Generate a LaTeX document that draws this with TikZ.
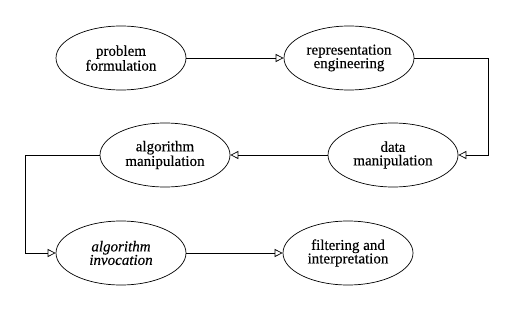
\documentclass[tikz,border=0pt]{standalone}
\usepackage{fontspec}
\setmainfont{Liberation Serif}[FakeBold=0.3]
\usetikzlibrary{shapes.geometric,arrows.meta}
\begin{document}
\begin{tikzpicture}[x=1pt,y=-1pt,
  stage/.style={ellipse,draw,line width=0.7pt,minimum width=130pt,minimum height=64pt,inner sep=0pt,align=center,font=\fontsize{15}{13.5}\selectfont},
  conn/.style={line width=0.7pt,-{Triangle[open,length=8pt,width=8pt]}}]
\useasboundingbox (0,0) rectangle (516,310);
\node[stage] (pf) at (121,58) {problem\\formulation};
\node[stage] (re) at (349,58) {representation\\engineering};
\node[stage] (dm) at (393,155) {data\\manipulation};
\node[stage] (am) at (165,155) {algorithm\\manipulation};
\node[stage] (ai) at (121,253) {\itshape algorithm\\\itshape invocation};
\node[stage] (fi) at (348,253) {filtering and\\interpretation};
\coordinate (rx) at (488,0);
\coordinate (lx) at (25,0);
\draw[conn] (pf.east) -- (re.west);
\draw[conn] (re.east) -- (re.east -| rx) |- (dm.east);
\draw[conn] (dm.west) -- (am.east);
\draw[conn] (am.west) -- (am.west -| lx) |- (ai.west);
\draw[conn] (ai.east) -- (fi.west);
\end{tikzpicture}
\end{document}
